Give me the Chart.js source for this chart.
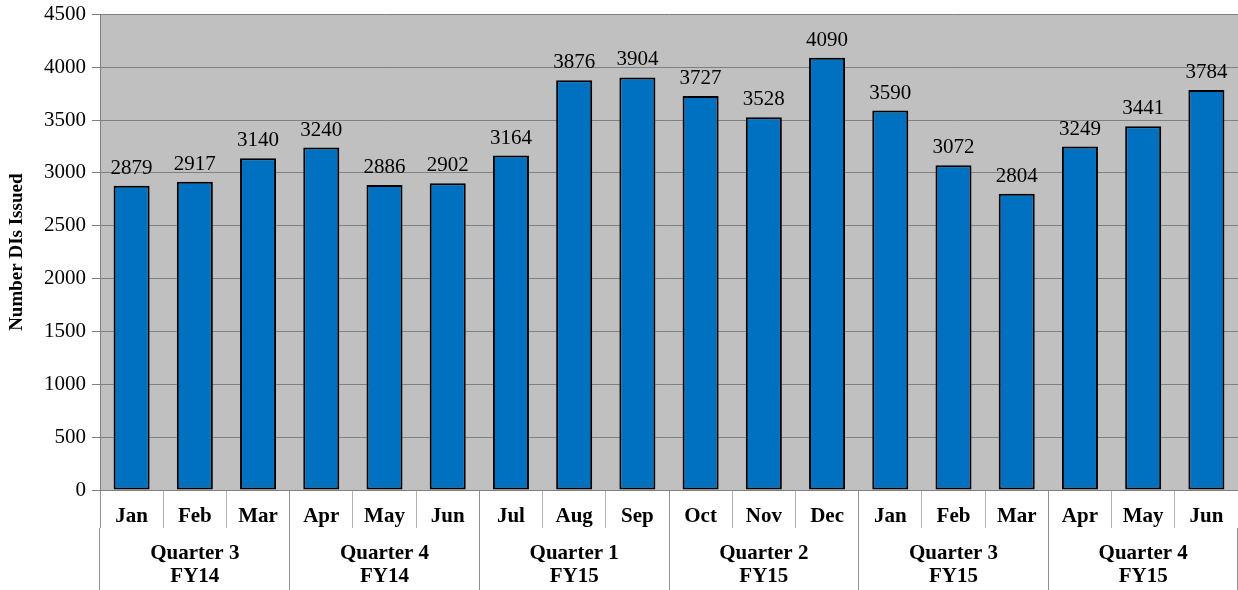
<!DOCTYPE html>
<html>
<head>
<meta charset="utf-8">
<script src="https://cdn.jsdelivr.net/npm/chart.js@4"></script>
<style>
  html, body { margin: 0; padding: 0; background: #fff; }
  #wrap { width: 1238px; height: 590px; }
</style>
</head>
<body>
<div id="wrap"><canvas id="chart"></canvas></div>
<script>
// Monthly DIs issued, Q3 FY14 through Q4 FY15
var months = ["Jan", "Feb", "Mar", "Apr", "May", "Jun", "Jul", "Aug", "Sep",
  "Oct", "Nov", "Dec", "Jan", "Feb", "Mar", "Apr", "May", "Jun"]
var quarters = [["Quarter 3", "FY14"], ["Quarter 4", "FY14"], ["Quarter 1", "FY15"],
  ["Quarter 2", "FY15"], ["Quarter 3", "FY15"], ["Quarter 4", "FY15"]]
var issued = [2879, 2917, 3140, 3240, 2886, 2902, 3164, 3876, 3904,
  3727, 3528, 4090, 3590, 3072, 2804, 3249, 3441, 3784]

var serif = "'Liberation Serif', 'Times New Roman', serif"

// gray plot background
var plotBackground = {
  id: "plotBackground",
  beforeDraw: function(chart) {
    var a = chart.chartArea
    var ctx = chart.ctx
    ctx.save()
    ctx.fillStyle = "#c0c0c0"
    ctx.fillRect(a.left, a.top, a.right - a.left, a.bottom - a.top)
    ctx.restore()
  },
}

// value labels over each bar
var barValues = {
  id: "barValues",
  afterDatasetsDraw: function(chart) {
    var ctx = chart.ctx
    var meta = chart.getDatasetMeta(0)
    ctx.save()
    ctx.font = "21px " + serif
    ctx.fillStyle = "#000"
    ctx.textAlign = "center"
    ctx.textBaseline = "alphabetic"
    meta.data.forEach(function(bar, i) {
      ctx.fillText(String(issued[i]), bar.x, bar.y - 12)
    })
    ctx.restore()
  },
}

var chart = new Chart(document.getElementById("chart"), {
  type: "bar",
  plugins: [plotBackground, barValues],
  data: {
    labels: months,
    datasets: [
      {
        label: "Number DIs Issued",
        data: issued,
        backgroundColor: "#0070c0",
        borderColor: "#000",
        borderWidth: 2,
        borderSkipped: false,
        barPercentage: 0.57,
        categoryPercentage: 1,
        xAxisID: "x",
      },
    ],
  },
  options: {
    responsive: true,
    maintainAspectRatio: false,
    animation: false,
    layout: { padding: { top: 0, right: 0, left: 0, bottom: 0 } },
    plugins: {
      legend: { display: false },
      tooltip: { enabled: false },
    },
    scales: {
      x: {
        type: "category",
        position: "bottom",
        offset: true,
        border: { display: true, color: "#808080", width: 1 },
        grid: {
          offset: true,
          drawOnChartArea: false,
          tickLength: 38,
          color: function(c) { return c.index % 3 === 0 ? "#909090" : "#b4b4b4" },
        },
        ticks: {
          padding: -22,
          maxRotation: 0,
          autoSkip: false,
          color: "#000",
          font: { family: serif, size: 21, weight: "bold", lineHeight: 1 },
        },
        afterFit: function(axis) { axis.height = 38 },
      },
      x2: {
        type: "category",
        position: "bottom",
        labels: quarters,
        offset: true,
        border: { display: false },
        grid: {
          offset: true,
          drawOnChartArea: false,
          tickLength: 62,
          color: "#909090",
        },
        ticks: {
          padding: -48,
          maxRotation: 0,
          autoSkip: false,
          color: "#000",
          font: { family: serif, size: 21, weight: "bold", lineHeight: 1.1 },
        },
        afterFit: function(axis) { axis.height = 62 },
      },
      y: {
        min: 0,
        max: 4500,
        border: { display: true, color: "#808080", width: 1 },
        grid: {
          color: "#808080",
          tickColor: "#808080",
          tickLength: 8,
        },
        ticks: {
          stepSize: 500,
          padding: 6,
          color: "#000",
          font: { family: serif, size: 21, lineHeight: 0.8 },
          callback: function(v) { return String(v) },
        },
        title: {
          display: true,
          text: "Number DIs Issued",
          color: "#000",
          font: { family: serif, size: 19, weight: "bold" },
          padding: { top: 6, bottom: 2 },
        },
        afterFit: function(axis) { axis.width = 100 },
      },
    },
  },
})
</script>
</body>
</html>
